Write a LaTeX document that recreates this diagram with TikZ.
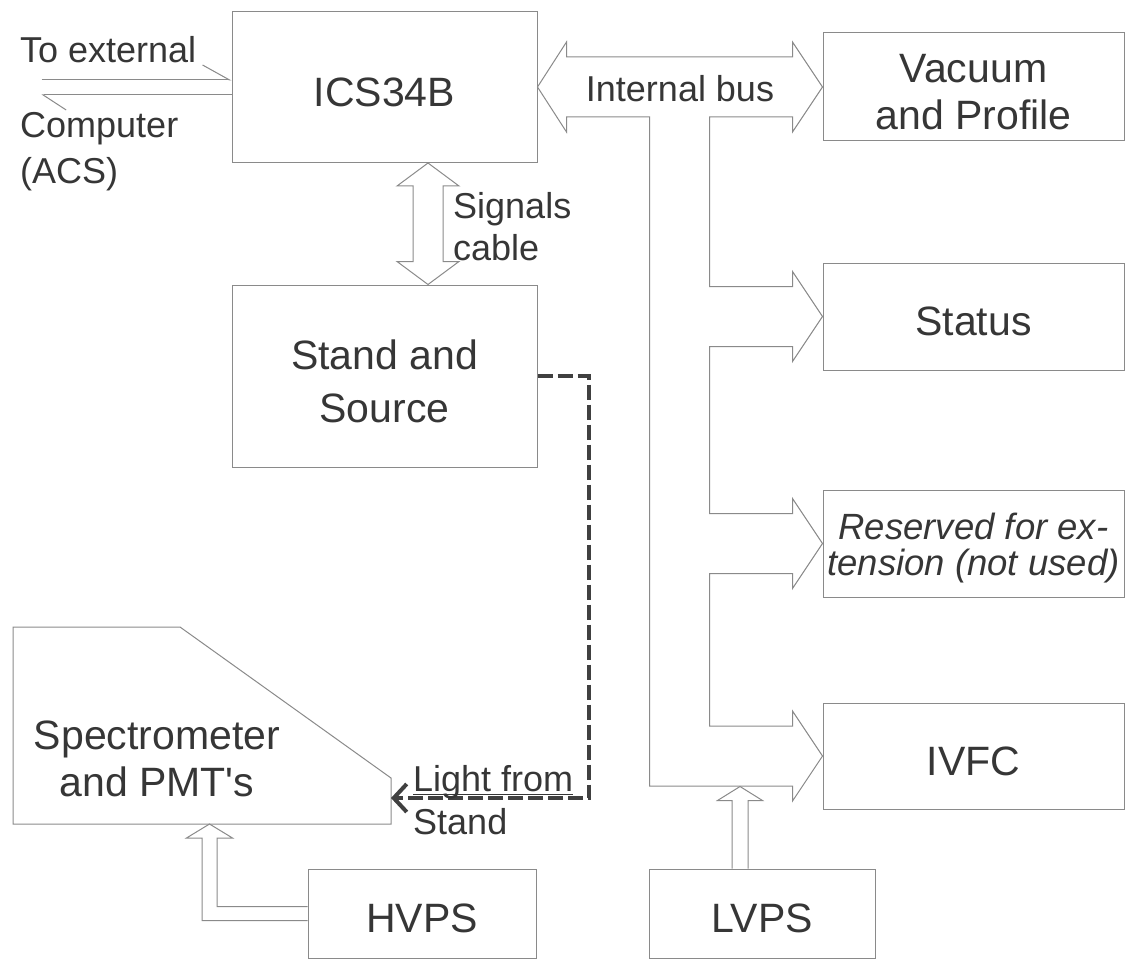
\documentclass[tikz,border=0pt]{standalone}
\usepackage{fontspec}
\setmainfont{Liberation Sans}
\usetikzlibrary{calc,positioning,arrows.meta}
\definecolor{color_line}{HTML}{8a8a8a}
\definecolor{color_text}{HTML}{363636}
\definecolor{color_light}{HTML}{404040}

\begin{document}
\begin{tikzpicture}[x=1pt,y=-1pt,
		box/.style={draw=color_line,line width=1pt,inner sep=0pt},
		boxtext/.style={text=color_text,font=\fontsize{41}{47}\selectfont,align=center},
		boxlabel/.style={boxtext,yshift=-5pt},
		edgetext/.style={text=color_text,font=\fontsize{36}{40}\selectfont,inner sep=0pt,anchor=base west},
		hollow/.style={draw=color_line,line width=1pt,line join=miter},
		lightpath/.style={draw=color_light,line width=4pt,dash pattern=on 15pt off 5pt}
	]
	\useasboundingbox (0,0) rectangle (1126,960);

	% Boxes
	\node[box,minimum width=305pt,minimum height=151pt,
		label={[boxlabel]center:ICS34B}] (ics) at (384.5,87) {};
	\node[box,minimum width=305pt,minimum height=182pt,
		label={[boxlabel,font=\fontsize{41}{53}\selectfont]center:{Stand and\\Source}}] (stand) at (384.5,376) {};
	\node[box,minimum width=301pt,minimum height=108pt,
		label={[boxlabel]center:{Vacuum\\and Profile}}] (vac) at (973.5,87) {};
	\node[box,minimum width=301pt,minimum height=107pt,
		label={[boxlabel]center:Status}] (status) at (973.5,316.5) {};
	\node[box,minimum width=301pt,minimum height=107pt,
		label={[boxlabel,font=\fontsize{36.5}{36}\selectfont\itshape]center:{Reserved for ex-\\tension (not used)}}] (resv) at (973.5,543.5) {};
	\node[box,minimum width=301pt,minimum height=106pt,
		label={[boxlabel]center:IVFC}] (ivfc) at (973.5,756) {};
	\node[box,minimum width=228pt,minimum height=89pt,
		label={[boxlabel]center:HVPS}] (hvps) at (422,913.5) {};
	\node[box,minimum width=226pt,minimum height=89pt,
		label={[boxlabel]center:LVPS}] (lvps) at (762,913.5) {};

	% Spectrometer outline
	\coordinate (PTL) at (13,627);
	\coordinate (PTR) at (180,627);
	\coordinate (PSL) at (391,778);
	\coordinate (PBR) at (391,824);
	\coordinate (PBL) at (13,824);
	\coordinate (SR) at (391,798);
	\coordinate (SB) at (209.5,824);
	\draw[box] (PTL) -- (PTR) -- (PSL) -- (PBR) -- (PBL) -- cycle;
	\node[boxtext] (spec) at (157,759) {Spectrometer\\and PMT\textquotesingle s};

	% External computer link
	\draw[hollow,-{Straight Barb[left,length=27pt,width=30pt]}]
		($(ics.west)+(-190,-7)$) -- ($(ics.west)+(0,-7)$);
	\draw[hollow,-{Straight Barb[left,length=23pt,width=30pt]}]
		($(ics.west)+(0,8)$) -- ($(ics.west)+(-190,8)$);
	\node[edgetext] (toext) at (20,63) {To external};
	\node[edgetext] (comp) at (20,138) {Computer};
	\node[edgetext] (acs) at (20,183) {(ACS)};

	% Internal bus
	\coordinate (TRUNK) at ($(ics.east)+(112,30)$);
	\draw[hollow]
		(ics.east) -- ++(29,-45) -- ++(0,15)
		-- ($(vac.west)+(-30,-30)$) -- ($(vac.west)+(-30,-45)$) -- (vac.west)
		-- ($(vac.west)+(-30,45)$) -- ($(vac.west)+(-30,30)$)
		-| ($(status.west)+(-113,-30)$)
		-- ($(status.west)+(-30,-30)$) -- ($(status.west)+(-30,-45)$) -- (status.west)
		-- ($(status.west)+(-30,45)$) -- ($(status.west)+(-30,30)$)
		-| ($(resv.west)+(-113,-30)$)
		-- ($(resv.west)+(-30,-30)$) -- ($(resv.west)+(-30,-45)$) -- (resv.west)
		-- ($(resv.west)+(-30,45)$) -- ($(resv.west)+(-30,30)$)
		-| ($(ivfc.west)+(-113,-30)$)
		-- ($(ivfc.west)+(-30,-30)$) -- ($(ivfc.west)+(-30,-45)$) -- (ivfc.west)
		-- ($(ivfc.west)+(-30,45)$) -- ($(ivfc.west)+(-30,30)$)
		-| (TRUNK)
		-- ($(ics.east)+(29,30)$) -- ($(ics.east)+(29,45)$) -- cycle;
	\node[edgetext,anchor=base] (bus) at (680,102) {Internal bus};

	% Signals cable
	\draw[hollow]
		($(ics.south)+(43.5,0)$) -- ($(ics.south)+(74.5,23)$) -- ($(ics.south)+(58.5,23)$)
		-- ($(stand.north)+(58.5,-23)$) -- ($(stand.north)+(74.5,-23)$) -- ($(stand.north)+(43.5,0)$)
		-- ($(stand.north)+(12.5,-23)$) -- ($(stand.north)+(28.5,-23)$)
		-- ($(ics.south)+(28.5,23)$) -- ($(ics.south)+(12.5,23)$) -- cycle;
	\node[edgetext] (sig) at (453,218) {Signals};
	\node[edgetext] (cab) at (453,260) {cable};

	% Power supplies
	\draw[hollow]
		($(hvps.west)+(0,-7)$) -| ($(SB)+(7.5,14)$) -- ($(SB)+(23,14)$) -- (SB)
		-- ($(SB)+(-23,14)$) -- ($(SB)+(-7.5,14)$) |- ($(hvps.west)+(0,7)$);
	\draw[hollow]
		($(lvps.north)+(-30,0)$) -- ($(lvps.north)+(-30,-68)$) -- ($(lvps.north)+(-44.5,-68)$)
		-- ($(lvps.north)+(-22,-82)$) -- ($(lvps.north)+(0.5,-68)$) -- ($(lvps.north)+(-14,-68)$)
		-- ($(lvps.north)+(-14,0)$);

	% Light from the stand
	\draw[lightpath,-{Straight Barb[length=13pt,width=28pt]}]
		(stand.east) -| (589,798) -- (SR);
	\node[edgetext] (light) at (413,791) {Light from};
	\draw[color_text,line width=1pt] ([yshift=-3pt]light.base west) -- ([yshift=-3pt]light.base east);
	\node[edgetext] (standlbl) at (413,834) {Stand};
\end{tikzpicture}
\end{document}
